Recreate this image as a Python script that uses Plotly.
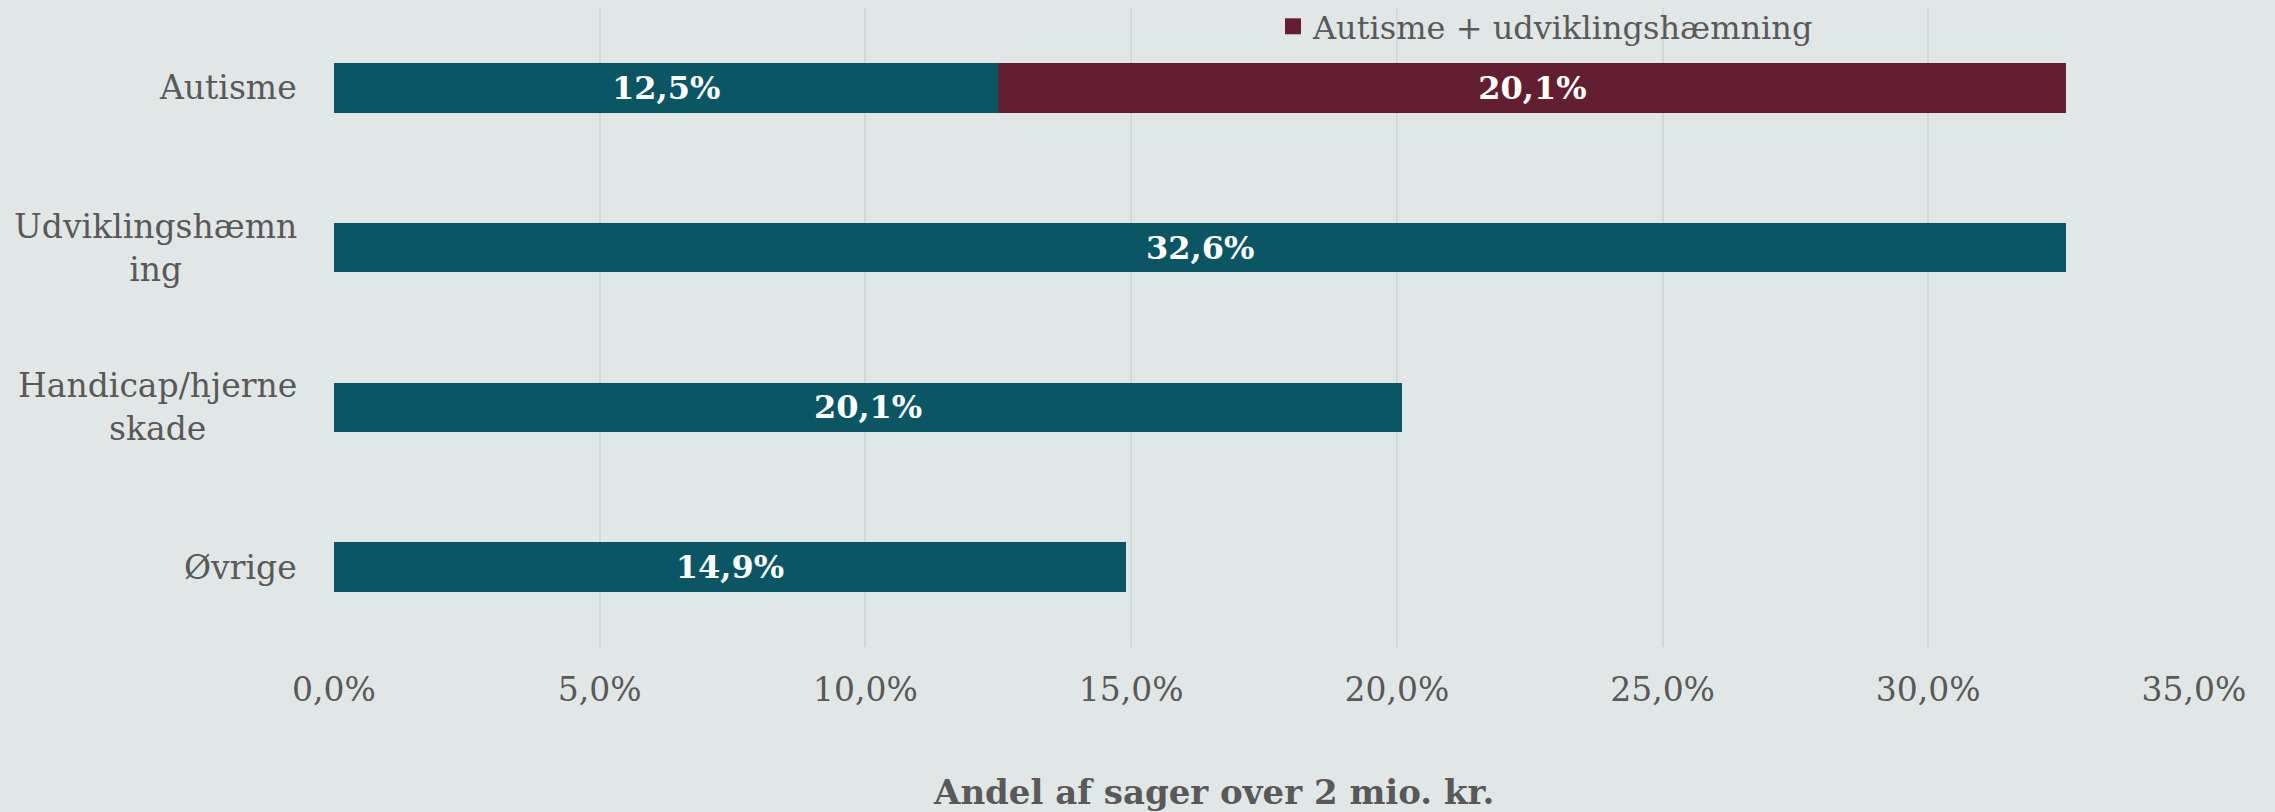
import plotly.graph_objects as go

categories = ["Autisme", "Udviklingshæmning", "Handicap/hjerneskade", "Øvrige"]
category_labels = ["Autisme", "Udviklingshæmn<br>ing", "Handicap/hjerne<br>skade", "Øvrige"]
base_values = [12.5, 32.6, 20.1, 14.9]
combo_categories = ["Autisme"]
combo_values = [20.1]
combo_name = "Autisme + udviklingshæmning"
x_ticks = [0, 5, 10, 15, 20, 25, 30, 35]
x_tick_labels = ["0,0%", "5,0%", "10,0%", "15,0%", "20,0%", "25,0%", "30,0%", "35,0%"]
x_title = "Andel af sager over 2 mio. kr."

TEAL = "#0A5664"
MAROON = "#641E32"
BG = "#E1E7E7"
GRID = "#D3D8D8"
TXT = "#595959"
FONT = "Georgia, 'DejaVu Serif', serif"

W, H = 2275, 812
ML, MR, MT, MB = 334, 81, 8, 165
PW = W - ML - MR
PH = H - MT - MB

fig = go.Figure()
fig.add_trace(go.Bar(
    y=categories, x=base_values, orientation="h",
    marker=dict(color=TEAL, line=dict(width=0)),
    texttemplate="%{x:.1f}%", textposition="inside", insidetextanchor="middle",
    textfont=dict(family=FONT, size=32, color="white", weight="bold"),
    showlegend=False, name="",
))
fig.add_trace(go.Bar(
    y=combo_categories, x=combo_values, orientation="h",
    marker=dict(color=MAROON, line=dict(width=0)),
    texttemplate="%{x:.1f}%", textposition="inside", insidetextanchor="middle",
    textfont=dict(family=FONT, size=32, color="white", weight="bold"),
    showlegend=False, name=combo_name,
))
# legend entry with a larger square swatch
fig.add_trace(go.Scatter(
    x=[None], y=[None], mode="markers", name=combo_name,
    marker=dict(symbol="square", size=16, color=MAROON),
))

annotations = []
for cat, lab in zip(categories, category_labels):
    annotations.append(dict(
        x=0, xref="paper", y=cat, yref="y", text=lab, showarrow=False,
        xanchor="right", yanchor="middle", align="center", xshift=-35,
        font=dict(family=FONT, size=33, color=TXT),
    ))
annotations.append(dict(
    x=(1213 - ML) / PW, xref="paper", y=-(792 - (MT + PH)) / PH, yref="paper",
    text="<b>" + x_title + "</b>", showarrow=False,
    xanchor="center", yanchor="middle",
    font=dict(family=FONT, size=34, color=TXT),
))

fig.update_layout(
    width=W, height=H,
    margin=dict(l=ML, r=MR, t=MT, b=MB, pad=0, autoexpand=False),
    paper_bgcolor=BG, plot_bgcolor=BG,
    barmode="stack", bargap=0.69,
    separators=",.",
    font=dict(family=FONT, size=33, color=TXT),
    showlegend=True,
    legend=dict(
        x=(1273 - ML) / PW, xanchor="left",
        y=1 + (MT + 1) / PH, yanchor="top",
        bgcolor="rgba(0,0,0,0)", font=dict(family=FONT, size=32, color=TXT),
        orientation="h",
    ),
    annotations=annotations,
    xaxis=dict(
        range=[0, 35], tickmode="array", tickvals=x_ticks, ticktext=x_tick_labels,
        showgrid=True, gridcolor=GRID, gridwidth=2, zeroline=False,
        showline=False, ticks="", ticklabelstandoff=20,
        tickfont=dict(family=FONT, size=33, color=TXT),
        fixedrange=True, automargin=False,
    ),
    yaxis=dict(
        categoryorder="array", categoryarray=categories, autorange="reversed",
        showticklabels=False, showgrid=False, zeroline=False, showline=False,
        ticks="", automargin=False,
    ),
)

fig.write_html(
    "out.html",
    config={"displayModeBar": False},
    post_script="document.body.style.margin='0';document.body.style.padding='0';document.body.style.overflow='hidden';",
)
